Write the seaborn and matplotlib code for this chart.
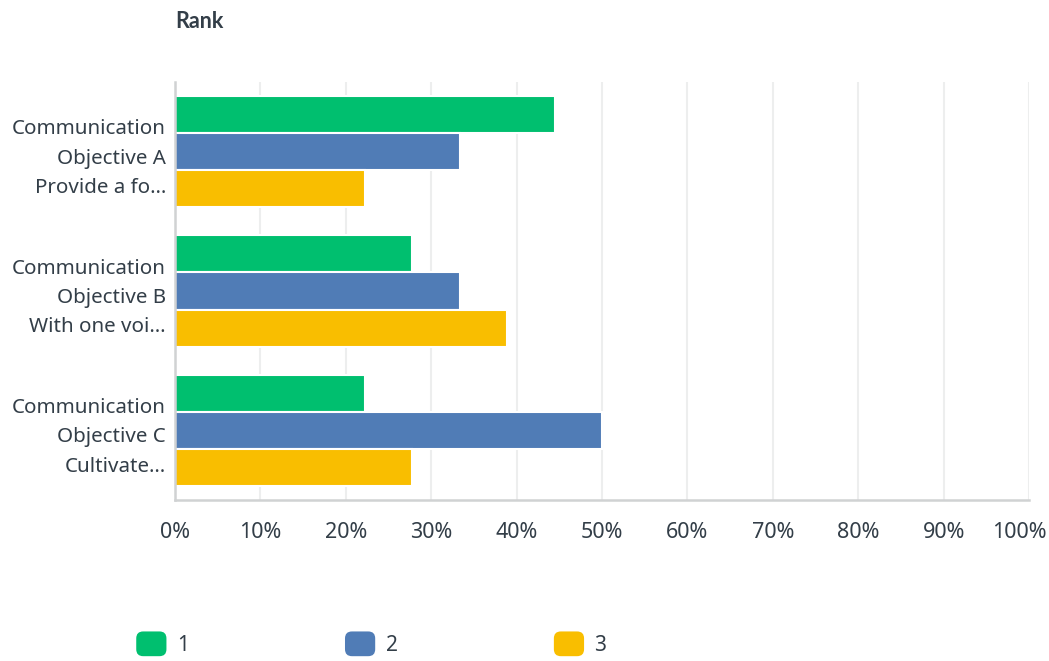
import matplotlib
matplotlib.use("Agg")
import matplotlib.pyplot as plt
from matplotlib.patches import FancyBboxPatch, Patch
from matplotlib.legend_handler import HandlerPatch
from matplotlib.transforms import ScaledTranslation
import seaborn as sns
import pandas as pd

categories = [
    "Communication\nObjective A\nProvide a fo…",
    "Communication\nObjective B\nWith one voi…",
    "Communication\nObjective C\nCultivate…",
]
rank_labels = ["1", "2", "3"]
rank1 = [44.44, 27.78, 22.22]
rank2 = [33.33, 33.33, 50.00]
rank3 = [22.22, 38.89, 27.78]
x_ticks = [0, 10, 20, 30, 40, 50, 60, 70, 80, 90, 100]

colors = ["#00BF6F", "#507CB6", "#F9BE00"]
text_color = "#333E48"

rows = []
for series, name in zip([rank1, rank2, rank3], rank_labels):
    for cat, val in zip(categories, series):
        rows.append({"objective": cat, "rank": name, "percent": val})
df = pd.DataFrame(rows)

sns.set_theme(style="white")
plt.rcParams["font.family"] = ["Noto Sans", "DejaVu Sans"]

fig = plt.figure(figsize=(10.49, 6.61), dpi=100)
ax = fig.add_axes([0.1668, 0.2436, 0.8142, 0.6324])

sns.barplot(
    data=df, y="objective", x="percent", hue="rank", orient="h",
    palette=colors, width=0.8, edgecolor="white", linewidth=1.5,
    saturation=1, ax=ax, legend=False,
)

ax.set_xlim(0, 100)
ax.set_ylim(2.5, -0.5)
ax.set_xticks(x_ticks)
ax.set_xticklabels([f"{t}%" for t in x_ticks])
ax.set_xlabel("")
ax.set_ylabel("")
ax.tick_params(axis="both", length=0, colors=text_color)
ax.tick_params(axis="x", pad=16, labelsize=15.5)
ax.tick_params(axis="y", pad=6.5, labelsize=14.8)
for lbl in ax.get_yticklabels():
    lbl.set_linespacing(1.62)
    lbl.set_color(text_color)
# keep the last percentage label inside the figure
last = ax.get_xticklabels()[-1]
last.set_transform(last.get_transform()
                   + ScaledTranslation(-10 / 100, 0, fig.dpi_scale_trans))

ax.grid(axis="x", color="#EDEEEE", linewidth=1.5)
ax.set_axisbelow(True)
for s in ["top", "right"]:
    ax.spines[s].set_visible(False)
for s in ["left", "bottom"]:
    ax.spines[s].set_color("#D0D2D3")
    ax.spines[s].set_linewidth(1.8)

fig.text(0.1668, 0.968, "Rank", fontsize=15.5, fontweight="bold",
         family=["Lato", "DejaVu Sans"], color=text_color,
         ha="left", va="center")


class RoundedSquare(HandlerPatch):
    def create_artists(self, legend, orig_handle, xdescent, ydescent,
                       width, height, fontsize, trans):
        p = FancyBboxPatch((-xdescent + 3, -ydescent + 3), width - 6, height - 6,
                           boxstyle="round,pad=3,rounding_size=5",
                           facecolor=orig_handle.get_facecolor(),
                           edgecolor="none", transform=trans)
        return [p]


handles = [Patch(facecolor=c, label=l) for c, l in zip(colors, rank_labels)]
leg = fig.legend(
    handles=handles, loc="center left", bbox_to_anchor=(0.112, 0.026),
    ncol=3, frameon=False, fontsize=15, handlelength=1.45, handleheight=1.45,
    handletextpad=0.5, columnspacing=7.5, labelcolor=text_color,
    handler_map={Patch: RoundedSquare()},
)

fig.savefig("out.png", dpi=100)
